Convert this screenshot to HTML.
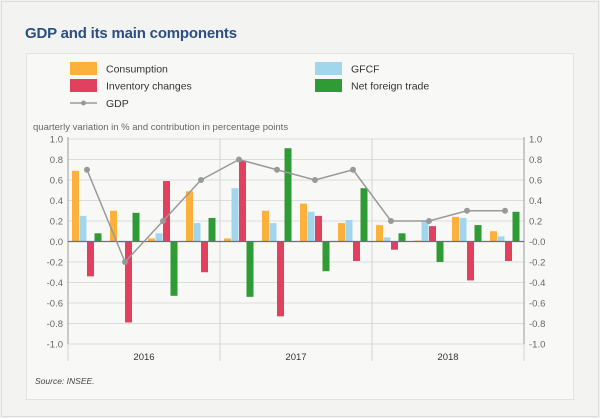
<!DOCTYPE html>
<html><head><meta charset="utf-8"><style>
body{margin:0;width:600px;height:418px;background:#f1f2f0;font-family:"Liberation Sans",sans-serif;overflow:hidden}
#frame{position:absolute;left:1px;top:1px;width:596px;height:414px;border:1px solid #dcdcdc;background:#f3f4f2}
#title{position:absolute;left:25px;top:25px;font-size:15px;color:#2b4e83;font-weight:bold;letter-spacing:-0.2px}
#panel{position:absolute;left:26px;top:53px;width:546px;height:345px;border:1px solid #e3e3e3;background:#f8f9f7}
svg{position:absolute;left:0;top:0}
</style></head><body>
<div id="frame"></div>
<div id="title">GDP and its main components</div>
<div id="panel"></div>
<svg id="chart" width="600" height="418"></svg>
<script>
const quarters=["2016Q1","2016Q2","2016Q3","2016Q4","2017Q1","2017Q2","2017Q3","2017Q4","2018Q1","2018Q2","2018Q3","2018Q4"];
const years=["2016","2017","2018"];
const consumption=[0.69,0.30,0.03,0.49,0.03,0.30,0.37,0.18,0.16,0.01,0.24,0.10];
const gfcf=[0.25,-0.01,0.08,0.18,0.52,0.18,0.29,0.21,0.04,0.20,0.23,0.05];
const inventory=[-0.34,-0.79,0.59,-0.30,0.79,-0.73,0.25,-0.19,-0.08,0.15,-0.38,-0.19];
const netTrade=[0.08,0.28,-0.53,0.23,-0.54,0.91,-0.29,0.52,0.08,-0.20,0.16,0.29];
const gdp=[0.7,-0.2,0.2,0.6,0.8,0.7,0.6,0.7,0.2,0.2,0.3,0.3];
const ticks=[1.0,0.8,0.6,0.4,0.2,0.0,-0.2,-0.4,-0.6,-0.8,-1.0];
const leftLabels=["1.0","0.8","0.6","0.4","0.2","0.0","-0.2","-0.4","-0.6","-0.8","-1.0"];
const rightLabels=["1.0","0.8","0.6","0.4","0.2","-0.0","-0.2","-0.4","-0.6","-0.8","-1.0"];

const svg=document.getElementById('chart');
const NS='http://www.w3.org/2000/svg';
function mk(t,a,p){const e=document.createElementNS(NS,t);for(const k in a)e.setAttribute(k,a[k]);(p||svg).appendChild(e);return e;}
const X0=68,X1=524,Y0=139,Y1=344;
const bw=(X1-X0)/quarters.length;
function y(v){return Y0+(1-v)/2*(Y1-Y0);}
function xq(i){return X0+i*bw;}

ticks.forEach((t,i)=>{
  const g=mk('line',{x1:X0,x2:X1,y1:y(t),y2:y(t),stroke:'#dcdcdc','stroke-width':1});
  
  
  const l=mk('text',{x:X0-5,y:y(t)+3.5,'text-anchor':'end','font-size':9.5,fill:'#666'});
  l.textContent=leftLabels[i];
  
  
  const r=mk('text',{x:X1+5,y:y(t)+3.5,'text-anchor':'start','font-size':9.5,fill:'#666'});
  r.textContent=rightLabels[i];
  
  
});
for(let k=0;k<=years.length;k++){
  const xx=X0+k*4*bw;
  const s=mk('line',{x1:xx,x2:xx,y1:Y0,y2:361,stroke:'#d4d4d4','stroke-width':1});
  
  
}
years.forEach((yr,k)=>{
  const t=mk('text',{x:X0+(k*4+2)*bw,y:360,'text-anchor':'middle','font-size':9.5,fill:'#333'});
  t.textContent=yr;
  
  
});
const la=mk('line',{x1:X0,x2:X0,y1:Y0-2,y2:Y1,stroke:'#999'});


const ra=mk('line',{x1:X1,x2:X1,y1:Y0-2,y2:Y1,stroke:'#999'});



const series=[[consumption,'#fbb13c','bar-consumption'],[gfcf,'#a2d6ec','bar-gfcf'],[inventory,'#e2405f','bar-inventory'],[netTrade,'#2e9b35','bar-net-trade']];
const pad=4,w=(bw-2*pad)/4;
series.forEach((s,si)=>{
  s[0].forEach((v,i)=>{
    const x=xq(i)+pad+si*w;
    const r=mk('rect',{x:x,y:Math.min(y(v),y(0)),width:w-0.5,height:Math.abs(y(v)-y(0)),fill:s[1]});
    
    
  });
});
const zl=mk('line',{x1:X0,x2:X1,y1:y(0),y2:y(0),stroke:'#6f63b0','stroke-width':1.2});


const pts=gdp.map((v,i)=>(xq(i)+bw/2)+','+y(v)).join(' ');
const pl=mk('polyline',{points:pts,fill:'none',stroke:'#999','stroke-width':1.5});


gdp.forEach((v,i)=>{
  const c=mk('circle',{cx:xq(i)+bw/2,cy:y(v),r:3,fill:'#999'});
  
  
});
const st=mk('text',{x:33,y:130,'font-size':9.5,fill:'#666'});
st.textContent='quarterly variation in % and contribution in percentage points';


const src=mk('text',{x:35,y:384,'font-size':8.5,'font-style':'italic',fill:'#444'});
src.textContent='Source: INSEE.';


const leg=[['Consumption','#fbb13c',70,62],['GFCF','#a2d6ec',315,62],['Inventory changes','#e2405f',70,79],['Net foreign trade','#2e9b35',315,79]];
leg.forEach(l=>{
  const r=mk('rect',{x:l[2],y:l[3],width:27,height:13,fill:l[1]});
  
  
  const t=mk('text',{x:l[2]+36,y:l[3]+10.5,'font-size':10.5,fill:'#333'});
  t.textContent=l[0];
  
  
});
const gl=mk('line',{x1:70,x2:97,y1:103,y2:103,stroke:'#999','stroke-width':1.5});


const gc=mk('circle',{cx:83.5,cy:103,r:2.5,fill:'#999'});


const gt=mk('text',{x:106,y:107,'font-size':10.5,fill:'#333'});
gt.textContent='GDP';


</script>
</body></html>
